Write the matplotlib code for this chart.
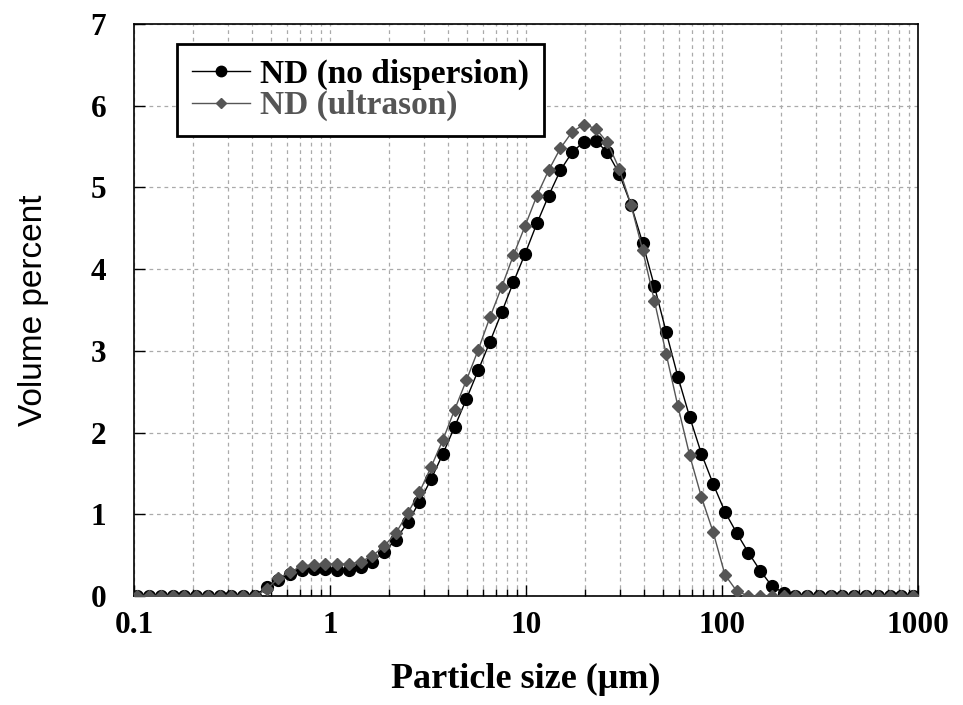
import numpy as np
import matplotlib
matplotlib.use("Agg")
import matplotlib.pyplot as plt
from matplotlib.ticker import LogLocator, NullFormatter

# Particle size bins (µm)
sizes = [0.1039, 0.1193, 0.1370, 0.1572, 0.1805, 0.2073, 0.2380, 0.2732, 0.3137, 0.3601,
         0.4134, 0.4747, 0.5450, 0.6257, 0.7183, 0.8247, 0.9468, 1.0870, 1.2479, 1.4327,
         1.6448, 1.8883, 2.1680, 2.4890, 2.8576, 3.2806, 3.7664, 4.3241, 4.9643, 5.6995,
         6.5432, 7.5120, 8.6243, 9.9012, 11.3672, 13.0502, 14.9824, 17.2009, 19.7477, 22.6716,
         26.0285, 29.8824, 34.3070, 39.3867, 45.2185, 51.9138, 59.6004, 68.4251, 78.5568, 90.1885,
         103.5424, 118.8736, 136.4748, 156.6822, 179.8816, 206.5152, 237.0931, 272.1987, 312.5021, 358.7731,
         411.8957, 472.8842, 542.9024, 623.2890, 715.5776, 821.5410, 943.1950]

nd_no_dispersion = [0, 0, 0, 0, 0, 0, 0, 0, 0, 0,
                    0, 0.11, 0.20, 0.27, 0.32, 0.33, 0.33, 0.32, 0.32, 0.36,
                    0.42, 0.54, 0.69, 0.90, 1.15, 1.43, 1.74, 2.07, 2.41, 2.76,
                    3.11, 3.47, 3.84, 4.19, 4.56, 4.90, 5.21, 5.43, 5.56, 5.57,
                    5.43, 5.17, 4.79, 4.32, 3.79, 3.23, 2.68, 2.19, 1.74, 1.37,
                    1.03, 0.77, 0.53, 0.31, 0.12, 0.04, 0, 0, 0, 0,
                    0, 0, 0, 0, 0, 0, 0]

nd_ultrason = [0, 0, 0, 0, 0, 0, 0, 0, 0, 0,
               0, 0.08, 0.22, 0.29, 0.37, 0.38, 0.39, 0.39, 0.39, 0.42,
               0.49, 0.61, 0.77, 1.01, 1.27, 1.58, 1.91, 2.28, 2.64, 3.01,
               3.41, 3.78, 4.17, 4.53, 4.90, 5.21, 5.48, 5.68, 5.77, 5.72,
               5.55, 5.23, 4.79, 4.23, 3.61, 2.96, 2.32, 1.72, 1.21, 0.78,
               0.26, 0.06, 0.0, 0, 0, 0, 0, 0, 0, 0,
               0, 0, 0, 0, 0, 0, 0]

xticks = [0.1, 1, 10, 100, 1000]
xticklabels = ["0.1", "1", "10", "100", "1000"]
yticks = [0, 1, 2, 3, 4, 5, 6, 7]

serif = ["Liberation Serif", "DejaVu Serif"]
sans = ["Liberation Sans", "DejaVu Sans"]

fig = plt.figure(figsize=(9.63, 7.05), dpi=100)
ax = fig.add_axes([134/963, 1-596/705, (918-134)/963, (596-24)/705])

grey = "#555555"
ax.plot(sizes, nd_no_dispersion, color="black", lw=1.0, marker="o", ms=8.5,
        mfc="black", mec="black", label="ND (no dispersion)", zorder=4)
ax.plot(sizes, nd_ultrason, color=grey, lw=1.0, marker="D", ms=6.5,
        mfc=grey, mec=grey, label="ND (ultrason)", zorder=5)

ax.set_xscale("log")
ax.set_xlim(0.1, 1000)
ax.set_ylim(0, 7)
ax.set_xticks(xticks)
ax.set_xticklabels(xticklabels)
ax.xaxis.set_minor_locator(LogLocator(base=10, subs=np.arange(2, 10), numticks=20))
ax.xaxis.set_minor_formatter(NullFormatter())
ax.set_yticks(yticks)

for lab in ax.get_xticklabels() + ax.get_yticklabels():
    lab.set_fontfamily(serif)
    lab.set_fontweight("bold")
    lab.set_fontsize(22.5)

ax.tick_params(axis="both", which="major", direction="in", length=8, width=1)
ax.tick_params(axis="both", which="minor", direction="in", length=5, width=1)
ax.tick_params(axis="x", which="major", pad=11)
ax.tick_params(axis="y", which="major", pad=20)

ax.grid(True, which="major", axis="both", color="#aaaaaa", linestyle=(0, (3, 3)), lw=0.9)
ax.grid(True, which="minor", axis="x", color="#aaaaaa", linestyle=(0, (3, 3)), lw=0.9)
ax.set_axisbelow(True)

for sp in ax.spines.values():
    sp.set_linewidth(1.2)
    sp.set_color("black")

ax.set_xlabel("Particle size (\u03bcm)", fontfamily=serif, fontweight="bold", fontsize=26, labelpad=16)
ax.set_ylabel("Volume percent", fontfamily=sans, fontsize=24, labelpad=30)

leg = ax.legend(loc="upper left", bbox_to_anchor=(177/963, 1-44/705), bbox_transform=fig.transFigure,
                prop={"family": serif, "weight": "bold", "size": 24},
                frameon=True, fancybox=False, edgecolor="black", framealpha=1,
                handlelength=1.75, handletextpad=0.3, borderpad=0.45, labelspacing=0.0,
                borderaxespad=0)
leg.get_frame().set_linewidth(2.0)
leg.get_texts()[1].set_color(grey)
h0, h1 = leg.legend_handles
h0.set_markersize(7.5)
h1.set_markersize(5.5)

fig.savefig("out.png", dpi=100)
